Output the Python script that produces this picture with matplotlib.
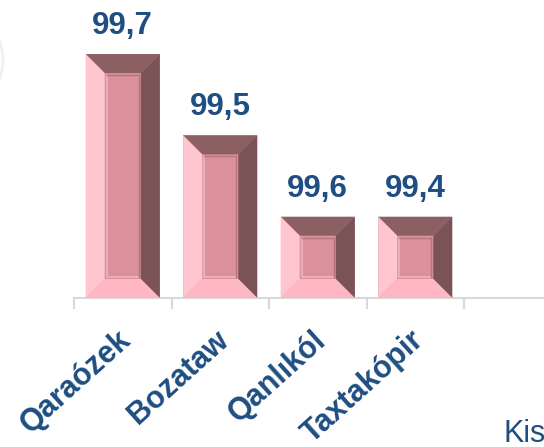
import numpy as np
import matplotlib.pyplot as plt
from matplotlib.patches import Polygon, Arc

# data
categories = ['Qaraózek', 'Bozataw', 'Qanlıkól', 'Taxtakópir']
value_labels = ['99,7', '99,5', '99,6', '99,4']
bar_heights = [3, 2, 1, 1]   # visual rank height of each bar
n_slots = 5                  # one empty slot on the right

blue = '#1F4E82'
plt.rcParams['font.family'] = ['Liberation Sans', 'DejaVu Sans']

W, H = 544, 447
fig = plt.figure(figsize=(W / 100, H / 100), dpi=100)
slot_px = 97.5
unit_px = 81.3
ax = fig.add_axes([74 / W, 149 / H, n_slots * slot_px / W, 3.6 * unit_px / H])
ax.set_xlim(-0.5, n_slots - 0.5)
ax.set_ylim(0, 3.6)

x = np.arange(len(categories))
bars = ax.bar(x, bar_heights, width=0.76, color='#DA919B', edgecolor='none', zorder=2)

# bevel sizes in data units
bev = 19
bx = bev / slot_px
by = bev / unit_px
for b in bars:
    x0, w, h = b.get_x(), b.get_width(), b.get_height()
    x1 = x0 + w
    polys = [
        ([(x0, h), (x1, h), (x1 - bx, h - by), (x0 + bx, h - by)], '#8C5F63'),
        ([(x1, h), (x1, 0), (x1 - bx, by), (x1 - bx, h - by)], '#7A5357'),
        ([(x0, 0), (x1, 0), (x1 - bx, by), (x0 + bx, by)], '#FFB8C3'),
        ([(x0, 0), (x0, h), (x0 + bx, h - by), (x0 + bx, by)], '#FFC6D0'),
    ]
    for pts, c in polys:
        ax.add_patch(Polygon(pts, closed=True, facecolor=c, edgecolor='none', zorder=3))
    # inner panel edge
    ix0, iy0 = x0 + bx + 2 / slot_px, by + 2 / unit_px
    iw, ih = w - 2 * bx - 4 / slot_px, h - 2 * by - 4 / unit_px
    ax.plot([ix0, ix0, ix0 + iw], [iy0 + ih, iy0, iy0], color='#F0B4BC', lw=1.2, zorder=4)
    ax.plot([ix0, ix0 + iw, ix0 + iw], [iy0 + ih, iy0 + ih, iy0], color='#B8747C', lw=1.0, zorder=4)

for xi, h, lab in zip(x, bar_heights, value_labels):
    ax.annotate(lab, (xi, h), xytext=(0, 20), textcoords='offset pixels',
                ha='center', va='baseline', fontsize=22.5, fontweight='bold', color=blue)

for xi, cat in zip(x, categories):
    ax.annotate(cat, (xi, 0), xytext=(-6, -27), textcoords='offset pixels',
                ha='right', va='top', rotation=42, rotation_mode='anchor',
                fontsize=22, fontweight='bold', color=blue)

for s in ['left', 'right', 'top']:
    ax.spines[s].set_visible(False)
ax.spines['bottom'].set_color('#D9D9D9')
ax.spines['bottom'].set_linewidth(1.5)
ax.set_yticks([])
ax.set_xticks(np.arange(-0.5, n_slots, 1.0))
ax.set_xticklabels([])
ax.tick_params(axis='x', direction='out', length=8, width=1.5, color='#D9D9D9')

# faint shape edge on the left and a cut-off caption
fig.patches.append(Arc((-60 / W, 1 - 60 / H), 126 / W, 110 / H, theta1=-60, theta2=60,
                       transform=fig.transFigure, color='#F0F0F0', lw=2))
fig.text(503 / W, 5 / H, 'Kis', fontsize=22, color=blue, ha='left', va='baseline')

fig.savefig('out.png', dpi=100)
